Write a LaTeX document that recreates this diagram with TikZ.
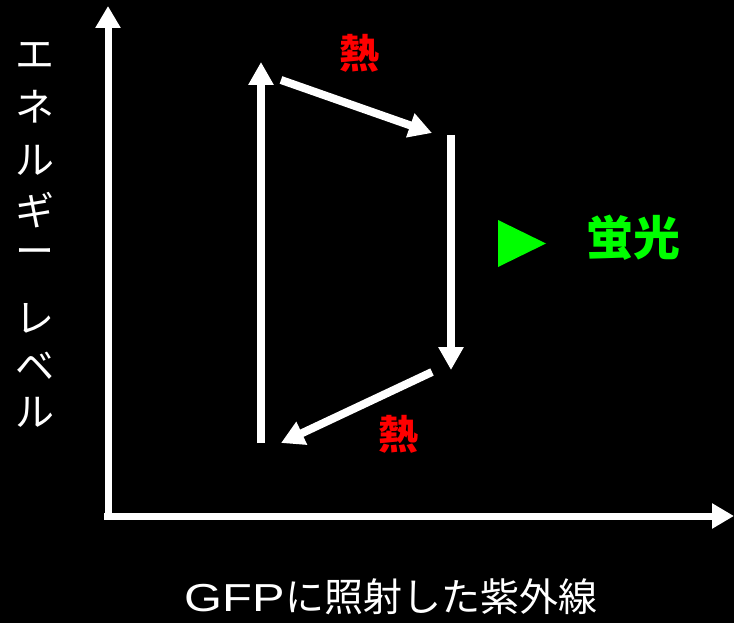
\documentclass[tikz,border=0pt]{standalone}
\usepackage{fontspec}
\newfontfamily\cjk{Noto Sans CJK JP}
\newfontfamily\lat{Liberation Sans}
\usetikzlibrary{arrows.meta}
\begin{document}
\begin{tikzpicture}[x=1pt,y=-1pt,
  axis/.style={white,line width=7pt,-{Triangle[length=22pt,width=24pt]}},
  trans/.style={white,line width=8pt,-{Triangle[length=23pt,width=24pt]}},
  heat/.style={text=red,font=\cjk\bfseries\fontsize{40}{40}\selectfont,inner sep=0pt},
  lbl/.style={text=white,font=\cjk\fontsize{39}{39}\selectfont,inner sep=0pt}]
\fill[black] (0,0) rectangle (734,623);
\useasboundingbox (0,0) rectangle (734,623);
% axes
\coordinate (o) at (108,519);
\coordinate (ytop) at (108,6);
\coordinate (ox) at (104,516);
\coordinate (xend) at (734,516);
\draw[axis] (o) -- (ytop);
\draw[axis] (ox) -- (xend);
% transitions
\coordinate (a1) at (261,443);
\coordinate (a2) at (261,62);
\coordinate (b1) at (281,80);
\coordinate (b2) at (432,133);
\coordinate (c1) at (451,135);
\coordinate (c2) at (451,370);
\coordinate (d1) at (432,372);
\coordinate (d2) at (281,443);
\draw[trans] (a1) -- (a2);
\draw[trans] (b1) -- (b2);
\draw[trans] (c1) -- (c2);
\draw[trans] (d1) -- (d2);
% labels
\node[heat] (h1) at (359,53) {熱};
\node[heat] (h2) at (398,434) {熱};
\fill[green] (498,220) -- (498,267) -- (546,243.5) -- cycle;
\node[text=green,font=\cjk\bfseries\fontsize{47}{47}\selectfont,inner sep=0pt] (fl) at (633,238) {蛍光};
\foreach \ch/\yy [count=\i] in {エ/55,ネ/107,ル/160,ギ/210,ー/257,レ/318,ベ/366,ル/412}
  \node[lbl] (y\i) at (35,\yy) {\ch};
\node[lbl] (xl) at (391,597) {{\lat\scalebox{1.25}[1]{GFP}}に照射した紫外線};
\end{tikzpicture}
\end{document}
